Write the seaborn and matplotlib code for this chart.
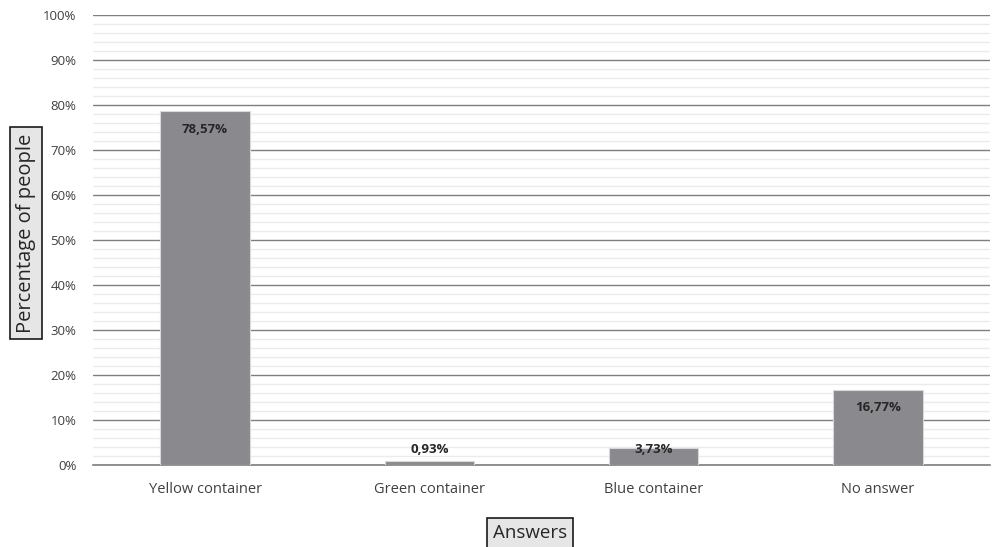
import matplotlib
matplotlib.use("Agg")
import matplotlib.pyplot as plt
from matplotlib.ticker import MultipleLocator, FuncFormatter
import seaborn as sns
import pandas as pd

categories = ["Yellow container", "Green container", "Blue container", "No answer"]
percentages = [78.57, 0.93, 3.73, 16.77]

sns.set_theme(style="white")
plt.rcParams["font.family"] = ["Open Sans", "DejaVu Sans"]

df = pd.DataFrame({"answer": categories, "pct": percentages})

fig = plt.figure(figsize=(9.92, 5.47), dpi=100)
ax = fig.add_axes([93 / 992, 1 - 465 / 547, 897 / 992, 450 / 547])

sns.barplot(data=df, x="answer", y="pct", color="#8a8a8e", width=0.4,
            saturation=1, ax=ax, zorder=3, edgecolor="#d9d9d9", linewidth=0.8)

ax.set_ylim(0, 100)
ax.set_xlim(-0.5, 3.5)
ax.yaxis.set_major_locator(MultipleLocator(10))
ax.yaxis.set_minor_locator(MultipleLocator(2))
ax.yaxis.set_major_formatter(FuncFormatter(lambda v, _: f"{v:.0f}%"))
ax.grid(axis="y", which="major", color="#7f7f7f", linewidth=1.0, zorder=1)
ax.grid(axis="y", which="minor", color="#ebebeb", linewidth=1.0, zorder=0)
ax.set_axisbelow(True)
for s in ["top", "right", "left"]:
    ax.spines[s].set_visible(False)
ax.spines["bottom"].set_color("#7f7f7f")
ax.spines["bottom"].set_linewidth(1.2)
ax.tick_params(axis="y", which="both", length=0, labelsize=9.5, colors="#404040", pad=12)
ax.tick_params(axis="x", length=0, labelsize=10.5, colors="#404040", pad=12)

for p, v in zip(ax.patches, percentages):
    x = p.get_x() + p.get_width() / 2
    y = max(v - 4.0, 3.4)
    ax.text(x, y, f"{v:.2f}%".replace(".", ","), ha="center", va="center",
            fontsize=9.5, fontweight="bold", color="#262626", zorder=5)

box = dict(boxstyle="square,pad=0.3", facecolor="#e6e6e6", edgecolor="#1a1a1a", linewidth=1.2)
ax.set_xlabel("")
ax.set_ylabel("")
fig.text(26 / 992, 1 - 233 / 547, "Percentage of people", rotation=90, ha="center",
         va="center", fontsize=14.5, color="#262626", bbox=box)
fig.text(530 / 992, 1 - 533 / 547, "Answers", ha="center", va="center",
         fontsize=13.5, color="#262626", bbox=box)

fig.savefig("out.png", dpi=100)
